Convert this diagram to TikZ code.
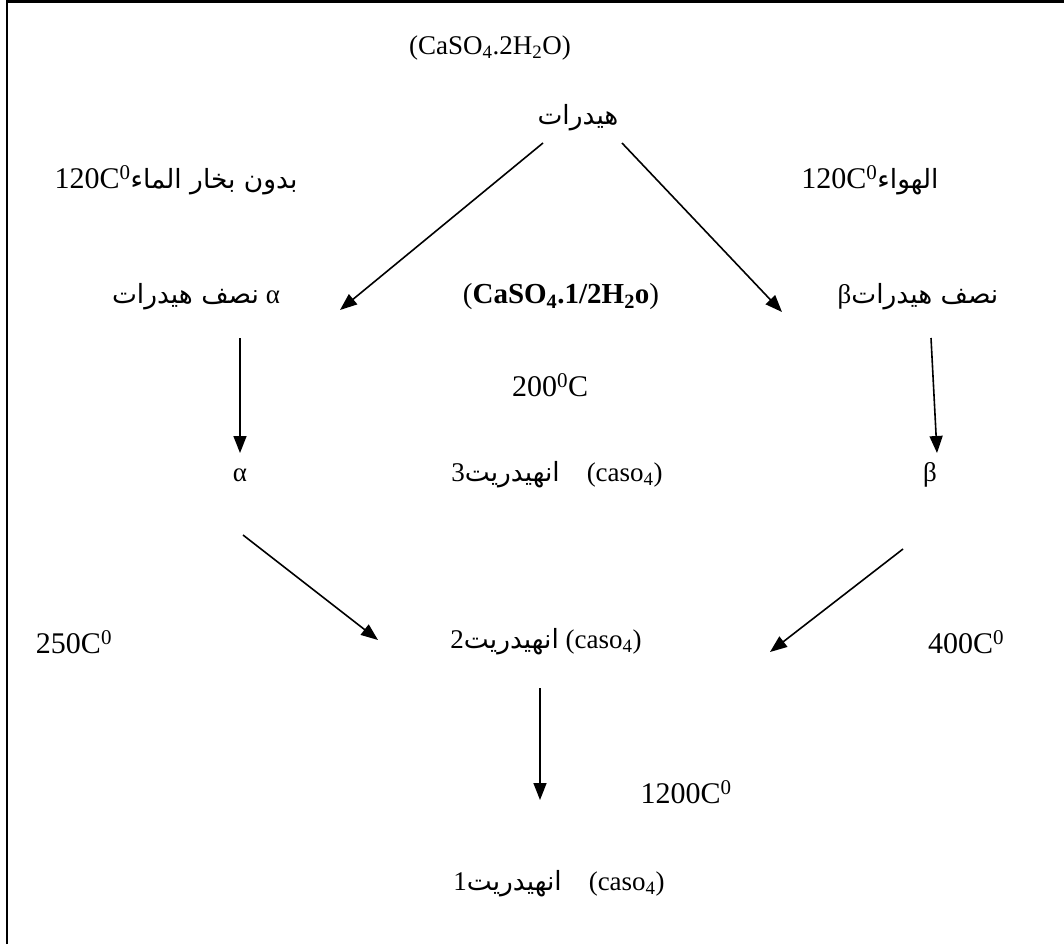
\documentclass[tikz,border=0pt]{standalone}
\usepackage{fontspec}
\setmainfont{Liberation Serif}
\newfontfamily\arabicfont[Script=Arabic,Scale=0.98]{DejaVu Sans}
\TeXXeTstate=1
\usetikzlibrary{arrows.meta}
\newcommand{\artxt}[1]{{\arabicfont\beginR #1\endR}}
\begin{document}
\begin{tikzpicture}[x=1pt,y=-1pt,
  every node/.style={inner sep=0pt, font=\fontsize{27}{31}\selectfont},
  temp/.style={font=\fontsize{30}{34}\selectfont},
  conn/.style={line width=1.6pt, -{Triangle[length=17pt,width=13pt]}},
  frame/.style={line width=2.5pt}]
\useasboundingbox (0,0) rectangle (1064,944);
\draw[frame] (7,944) -- (7,1.5) -- (1064,1.5);
% texts
\node (dihyd) at (490,48) {(CaSO\textsubscript{4}.2H\textsubscript{2}O)};
\node (hyd) at (578,118) {\artxt{هيدرات}};
\node[temp] (lblL) at (176,180) {120C\textsuperscript{0}{\fontsize{27}{31}\selectfont\artxt{بدون بخار الماء}}};
\node[temp] (lblR) at (870,180) {120C\textsuperscript{0}{\fontsize{27}{31}\selectfont\artxt{الهواء}}};
\node (hhA) at (196,297) {\artxt{نصف هيدرات} α};
\node[font=\fontsize{29}{33}\selectfont] (hemi) at (561,297) {(\textbf{CaSO\textsubscript{4}.1/2H\textsubscript{2}o})};
\node (hhB) at (918,297) {β\artxt{نصف هيدرات}};
\node[temp] (t200) at (550,385) {200\textsuperscript{0}C};
\node (alpha) at (240,475) {α};
\node (anh3) at (557,475) {3\artxt{انهيدريت}\quad(caso\textsubscript{4})};
\node (beta) at (930,475) {β};
\node[temp] (t250) at (74,642) {250C\textsuperscript{0}};
\node (anh2) at (546,642) {2\artxt{انهيدريت} (caso\textsubscript{4})};
\node[temp] (t400) at (966,642) {400C\textsuperscript{0}};
\node[temp] (t1200) at (686,792) {1200C\textsuperscript{0}};
\node (anh1) at (559,884) {1\artxt{انهيدريت}\quad(caso\textsubscript{4})};
% arrow ends
\coordinate (a1s) at (543,143); \coordinate (a1e) at (340,310);
\coordinate (a2s) at (622,143); \coordinate (a2e) at (782,312);
\coordinate (a3s) at (240,338); \coordinate (a3e) at (240,453);
\coordinate (a4s) at (931,338); \coordinate (a4e) at (937,453);
\coordinate (a5s) at (243,535); \coordinate (a5e) at (378,640);
\coordinate (a6s) at (903,549); \coordinate (a6e) at (770,652);
\coordinate (a7s) at (540,688); \coordinate (a7e) at (540,800);
\draw[conn] (a1s) -- (a1e);
\draw[conn] (a2s) -- (a2e);
\draw[conn] (a3s) -- (a3e);
\draw[conn] (a4s) -- (a4e);
\draw[conn] (a5s) -- (a5e);
\draw[conn] (a6s) -- (a6e);
\draw[conn] (a7s) -- (a7e);
\end{tikzpicture}
\end{document}
